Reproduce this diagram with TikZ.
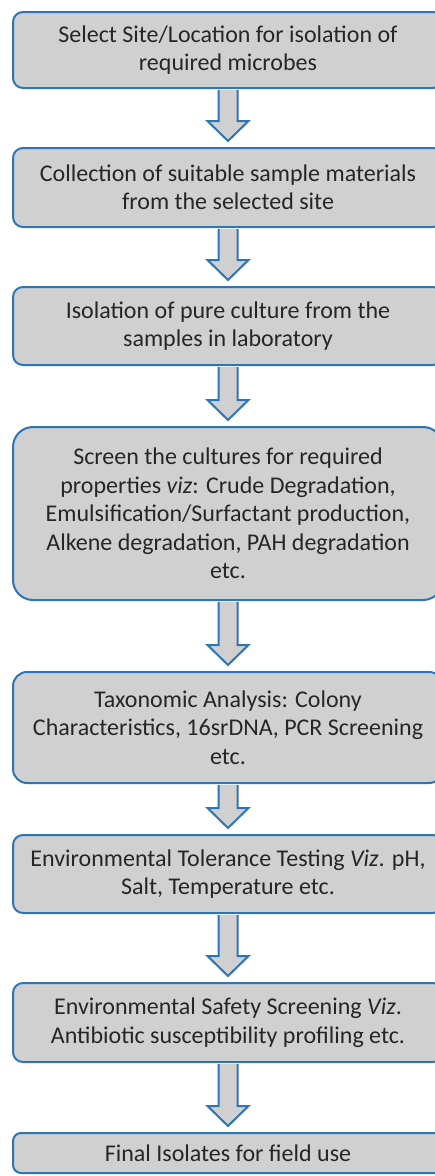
\documentclass[tikz,border=0pt]{standalone}
\usepackage{fontspec}
\setmainfont{Carlito}
\usepackage{xcolor}
\usepackage{tikz}
\usetikzlibrary{positioning, calc}

\definecolor{boxblue}{RGB}{46,117,182}
\definecolor{boxgray}{RGB}{208,208,208}
\definecolor{textdark}{RGB}{38,38,38}

\begin{document}
\begin{tikzpicture}[x=1pt, y=-1pt,
    stepbox/.style={draw=boxblue, fill=boxgray, line width=2pt, rounded corners=10pt,
      minimum width=430pt, align=center, text=textdark, inner sep=0pt,
      font=\fontsize{24}{28.5}\selectfont},
    flowarrow/.style={draw=boxblue, fill=boxgray, line width=2pt, line join=miter,
      to path={let \p1=(\tikztostart), \p2=(\tikztotarget) in
        (\x1-9.5pt,\y1-1pt) -- (\x1-9.5pt,\y2+26pt) -- (\x1-20.5pt,\y2+26pt) -- (\x1,\y2+6pt)
        -- (\x1+20.5pt,\y2+26pt) -- (\x1+9.5pt,\y2+26pt) -- (\x1+9.5pt,\y1-1pt)}}]
      \useasboundingbox (0,0) rectangle (435,1176);
      \clip (0,0) rectangle (435,1176);
      \node[stepbox, minimum height=76pt] (site) at (228,50) {Select Site/Location for isolation of\\required microbes};
      \node[stepbox, minimum height=79pt] (collect) at (228,187.5) {Collection of suitable sample materials\\from the selected site};
      \node[stepbox, minimum height=78pt] (isolate) at (228,326) {Isolation of pure culture from the\\samples in laboratory};
      \node[stepbox, minimum height=173pt, rounded corners=20pt] (screen) at (228,513.5) {Screen the cultures for required\\properties \textit{viz}: Crude Degradation,\\Emulsification/Surfactant production,\\Alkene degradation, PAH degradation\\etc.};
      \node[stepbox, minimum height=111pt, rounded corners=14pt] (taxo) at (228,727.5) {Taxonomic Analysis: Colony\\Characteristics, 16srDNA, PCR Screening\\etc.};
      \node[stepbox, minimum height=78pt] (toler) at (228,874) {Environmental Tolerance Testing \textit{Viz}. pH,\\Salt, Temperature etc.};
      \node[stepbox, minimum height=79pt] (safety) at (228,1022.5) {Environmental Safety Screening \textit{Viz}.\\Antibiotic susceptibility profiling etc.};
      \node[stepbox, minimum height=40pt, rounded corners=8pt] (final) at (228,1153) {Final Isolates for field use};
      % block arrows between the steps
      \draw[flowarrow] (site.south) to (collect.north);
      \draw[flowarrow] (collect.south) to (isolate.north);
      \draw[flowarrow] (isolate.south) to (screen.north);
      \draw[flowarrow] (screen.south) to (taxo.north);
      \draw[flowarrow] (taxo.south) to (toler.north);
      \draw[flowarrow] (toler.south) to (safety.north);
      \draw[flowarrow] (safety.south) to (final.north);
    \end{tikzpicture}
\end{document}
